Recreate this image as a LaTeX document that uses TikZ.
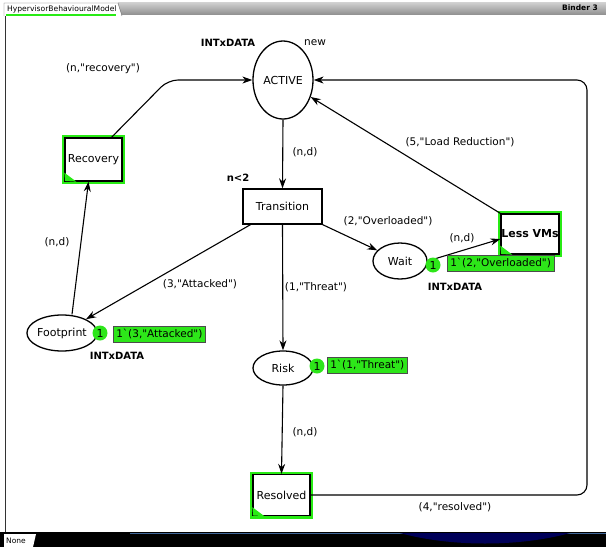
\documentclass[tikz,border=0pt]{standalone}
\usepackage{fontspec}
\newfontfamily\dv{DejaVu Sans}
\usetikzlibrary{shapes.geometric,arrows.meta,shadings}
\definecolor{glowgreen}{RGB}{40,235,20}
\definecolor{tokgreen}{RGB}{45,230,25}
\begin{document}
\begin{tikzpicture}[x=1pt,y=-1pt,
  every node/.style={font=\dv\fontsize{11}{13}\selectfont, inner sep=0pt},
  place/.style={draw, ellipse, line width=1.3pt, fill=white},
  trans/.style={draw, rectangle, line width=1.3pt, fill=white},
  enabled/.style={trans, preaction={draw=glowgreen, line width=6pt}},
  arr/.style={line width=1.1pt, -{Stealth[length=10pt,width=7pt]}},
  lbl/.style={font=\dv\fontsize{10.5}{12}\selectfont},
  bold/.style={font=\dv\bfseries\fontsize{10}{12}\selectfont},
  tok/.style={draw=black!70, fill=tokgreen, rectangle, line width=0.6pt, minimum height=16pt, inner xsep=3pt, font=\dv\fontsize{10.5}{12}\selectfont},
  cnt/.style={circle, fill=tokgreen, minimum size=15pt}
]
\useasboundingbox (0,0) rectangle (606,547);
\fill[white] (0,0) rectangle (606,547);

% top bar
\shade[top color=gray!35, bottom color=gray!85] (118,2) rectangle (606,14);
\node[font=\dv\bfseries\fontsize{7.5}{8}\selectfont] (binder) at (580,8) {Binder 3};
\draw[fill=white, draw=black!60, line width=0.4pt] (4,16) -- (4,3) -- (118,3) -- (122,16);
\node[font=\dv\fontsize{7.6}{8}\selectfont, anchor=west] (tabtxt) at (7,9.5) {HypervisorBehaviouralModel};
\draw[glowgreen, line width=1.2pt] (6,15) -- (116,15);
% left frame
\draw[black!80, line width=0.8pt] (5,16) -- (5,532);

% bottom bar
\fill[black] (0,532) rectangle (606,547);
\draw[cyan!50!blue!70!black, line width=0.8pt] (130,533) -- (606,533);
\fill[blue!35!black] (400,533) .. controls (450,547) and (520,547) .. (570,533) -- cycle;
\fill[white] (4,534) -- (36,534) -- (33,547) -- (4,547) -- cycle;
\node[font=\dv\fontsize{7.5}{8}\selectfont, anchor=west] (none) at (6,541) {None};

% places and transitions
\node[place, minimum width=60pt, minimum height=78pt] (active) at (283,80) {ACTIVE};
\node[enabled, minimum width=57pt, minimum height=43pt] (recovery) at (93.5,159.5) {Recovery};
\node[trans, minimum width=79pt, minimum height=35pt] (transition) at (282.5,206.5) {Transition};
\node[place, minimum width=70pt, minimum height=36pt] (footprint) at (62,333) {Footprint};
\node[place, minimum width=60pt, minimum height=34pt] (risk) at (283,368) {Risk};
\node[enabled, minimum width=57pt, minimum height=41pt] (resolved) at (281.5,495) {Resolved};
\node[place, minimum width=54pt, minimum height=36pt] (wait) at (400,261) {Wait};
\node[enabled, minimum width=58pt, minimum height=40pt] (lessvms) at (530,234) {\bfseries Less VMs};

% enabled corner marks
\foreach \t in {recovery,resolved,lessvms}{
  \fill[glowgreen] ([xshift=12pt]\t.south west) -- ([shift={(0.7pt,0.7pt)}]\t.south west) -- ([yshift=9pt]\t.south west) -- cycle;
}

% arcs
\draw[arr, rounded corners=10pt] ([xshift=18pt]recovery.north) -- (168,80) -- (active.west);
\draw[arr] (active.south) -- (transition.north);
\draw[arr] ([xshift=-32pt]transition.south) -- (footprint);
\draw[arr] ([xshift=10pt]footprint.north) -- ([xshift=-5pt]recovery.south);
\draw[arr] (transition.south) -- (risk.north);
\draw[arr] (transition.south east) -- (wait);
\draw[arr] (wait.east) -- ([yshift=-5pt]lessvms.west);
\draw[arr] (lessvms.north west) -- (active);
\draw[arr] (risk.south) -- (resolved.north);
\draw[arr, rounded corners=10pt] (resolved.east) -- (587,495) -- (587,80) -- (active.east);

% arc labels
\node[lbl] (l1) at (103,69) {(n,"recovery")};
\node[lbl] (l2) at (305,152) {(n,d)};
\node[bold] (guard) at (238,178) {n<2};
\node[lbl] (l3) at (57,242) {(n,d)};
\node[lbl] (l4) at (200,284) {(3,"Attacked")};
\node[lbl] (l5) at (316,287) {(1,"Threat")};
\node[lbl] (l6) at (388,221) {(2,"Overloaded")};
\node[lbl] (l7) at (462,238) {(n,d)};
\node[lbl] (l8) at (460,142) {(5,"Load Reduction")};
\node[lbl] (l9) at (305,432) {(n,d)};
\node[lbl] (l10) at (455,507) {(4,"resolved")};

% colour sets
\node[bold] (cs1) at (228,43) {INTxDATA};
\node[lbl] (init1) at (315,43) {new};
\node[bold] (cs2) at (117,356) {INTxDATA};
\node[bold] (cs3) at (455,287) {INTxDATA};

% markings
\node[cnt] (c1) at (100,333) {1};
\node[tok, anchor=west] (m1) at (113,334) {1`(3,"Attacked")};
\node[cnt] (c2) at (317,366) {1};
\node[tok, anchor=west] (m2) at (327,365) {1`(1,"Threat")};
\node[cnt] (c3) at (433,265) {1};
\node[tok, anchor=west] (m3) at (447,263) {1`(2,"Overloaded")};
\end{tikzpicture}
\end{document}
